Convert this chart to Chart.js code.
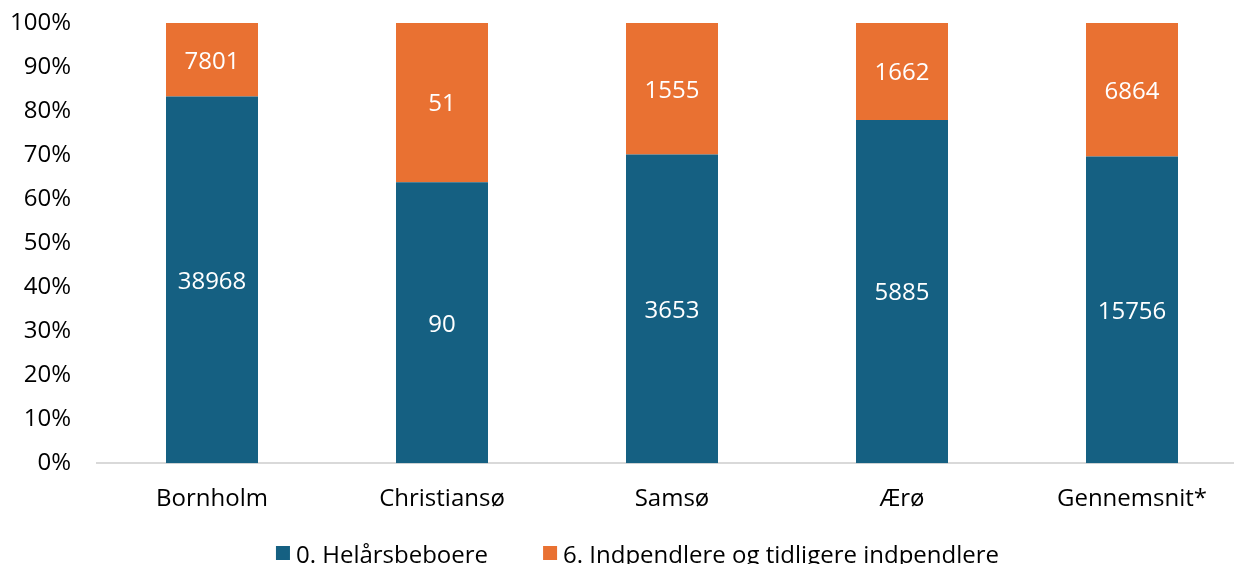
<!DOCTYPE html>
<html><head><meta charset="utf-8">
<script src="https://cdn.jsdelivr.net/npm/chart.js@4/dist/chart.umd.min.js"></script>
<style>
html,body{margin:0;padding:0;background:#fff;overflow:hidden;width:1234px;height:564px}
#wrap{position:relative;width:1275px;height:564px}
</style></head>
<body><div id="wrap"><canvas id="c" width="1275" height="564"></canvas></div>
<script>
const categories = ['Bornholm','Christiansø','Samsø','Ærø','Gennemsnit*'];
const helaarsbeboere = [38968, 90, 3653, 5885, 15756];
const indpendlere = [7801, 51, 1555, 1662, 6864];
const seriesNames = ['0. Helårsbeboere','6. Indpendlere og tidligere indpendlere'];
const seriesColors = ['#156082','#E97132'];
const yTicks = [0,10,20,30,40,50,60,70,80,90,100];

const totals = categories.map((_, i) => helaarsbeboere[i] + indpendlere[i]);
const pct = arr => arr.map((v, i) => v / totals[i] * 100);
const raw = [helaarsbeboere, indpendlere];
const FONT = '"Open Sans", sans-serif';

const labelPlugin = {
  id: 'barLabels',
  afterDatasetsDraw(chart) {
    const ctx = chart.ctx;
    ctx.save();
    ctx.fillStyle = '#ffffff';
    ctx.font = '24px ' + FONT;
    ctx.textAlign = 'center';
    ctx.textBaseline = 'middle';
    chart.data.datasets.forEach((ds, di) => {
      chart.getDatasetMeta(di).data.forEach((el, i) => {
        const p = el.getProps(['x','y','base'], true);
        ctx.fillText(String(raw[di][i]), p.x, (p.y + p.base) / 2 + 2);
      });
    });
    ctx.restore();
  }
};

const legendPlugin = {
  id: 'customLegend',
  afterDraw(chart) {
    const ctx = chart.ctx;
    ctx.save();
    ctx.font = '24px ' + FONT;
    const box = 14, gap = 6, itemGap = 55;
    const widths = seriesNames.map(n => box + gap + ctx.measureText(n).width);
    const total = widths.reduce((a, b) => a + b, 0) + itemGap * (seriesNames.length - 1);
    let x = chart.width / 2 - total / 2;
    const baseline = 563;
    seriesNames.forEach((n, i) => {
      ctx.fillStyle = seriesColors[i];
      ctx.fillRect(x, baseline - 17, box, box);
      ctx.fillStyle = '#000';
      ctx.textBaseline = 'alphabetic';
      ctx.textAlign = 'left';
      ctx.fillText(n, x + box + gap, baseline);
      x += widths[i] + itemGap;
    });
    ctx.restore();
  }
};

new Chart(document.getElementById('c'), {
  type: 'bar',
  data: {
    labels: categories,
    datasets: [
      { label: seriesNames[0], data: pct(helaarsbeboere), backgroundColor: seriesColors[0] },
      { label: seriesNames[1], data: pct(indpendlere), backgroundColor: seriesColors[1] }
    ]
  },
  options: {
    responsive: false,
    animation: false,
    events: [],
    layout: { padding: { top: 23, left: 0, right: 28, bottom: 28 } },
    plugins: { legend: { display: false }, tooltip: { enabled: false } },
    datasets: { bar: { categoryPercentage: 1, barPercentage: 0.4 } },
    scales: {
      x: {
        stacked: true,
        afterFit(s) { s.paddingLeft = 0; s.paddingRight = 0; },
        grid: { display: false, drawTicks: false },
        border: { display: true, color: '#d9d9d9', width: 2 },
        ticks: { color: '#000', font: { family: FONT, size: 24 }, padding: 22, maxRotation: 0 }
      },
      y: {
        stacked: true,
        min: 0, max: 100,
        afterFit(s) { s.width = 97; s.paddingTop = 0; s.paddingBottom = 0; },
        afterBuildTicks(s) { s.ticks = yTicks.map(v => ({ value: v })); },
        grid: { display: false, drawTicks: false },
        border: { display: false },
        ticks: { color: '#000', font: { family: FONT, size: 24 }, padding: 26, callback: v => v + '%' }
      }
    }
  },
  plugins: [labelPlugin, legendPlugin]
});
</script></body></html>
